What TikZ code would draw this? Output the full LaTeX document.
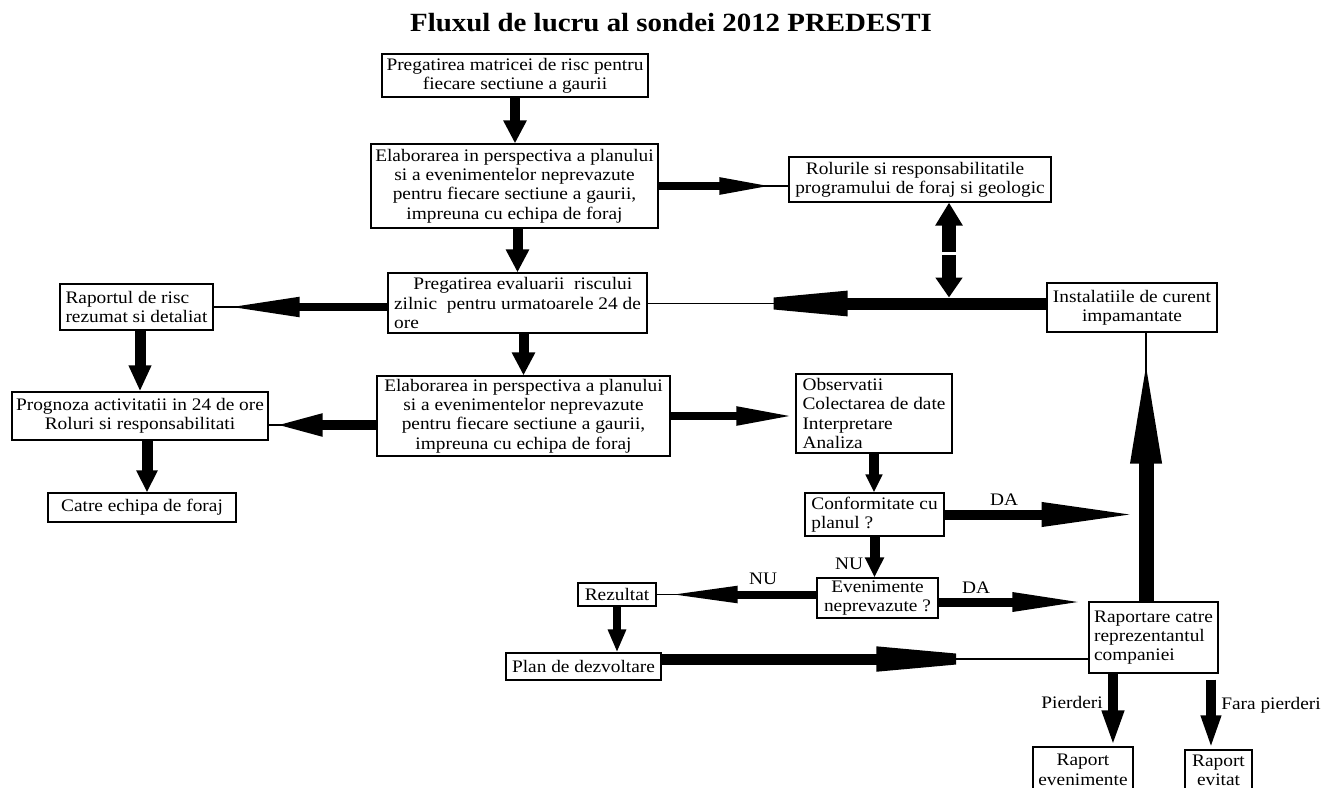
\documentclass[tikz,border=0pt]{standalone}
\usepackage{fontspec}
\setmainfont{Liberation Serif}[FakeStretch=1.1]
\usetikzlibrary{arrows.meta}
\begin{document}
\begin{tikzpicture}[x=0.75pt,y=-0.75pt,
  box/.style n args={2}{draw, line width=0.9pt, inner sep=0pt, minimum width=#1, minimum height=#2, font=\fontsize{13.2}{14.5}\selectfont},
  thinln/.style={line width=0.9pt},
  fat/.style n args={3}{line width=#1, -{Triangle[length=#2,width=#3]}},
  lbl/.style={font=\fontsize{13.2}{14.5}\selectfont, inner sep=0pt}]
\useasboundingbox (0,0) rectangle (1335,788);
\fill[white] (0,0) rectangle (1335,788);
\clip (0,0) rectangle (1335,788);

\node[anchor=base, font=\fontsize{19.7}{22}\selectfont\bfseries, inner sep=0pt] (title) at (671,32) {Fluxul de lucru al sondei 2012 PREDESTI};

% boxes
\node[box={199.5pt}{32.25pt}, align=center] (b1) at (515,75.5) {Pregatirea matricei de risc pentru\\fiecare sectiune a gaurii};
\node[box={215.25pt}{63pt}, align=center] (b2) at (514.5,186) {Elaborarea in perspectiva a planului\\si a evenimentelor neprevazute\\pentru fiecare sectiune a gaurii,\\impreuna cu echipa de foraj};
\node[box={194.25pt}{45pt}, align=left] (b3) at (517.5,303) {\hspace*{1.1em}Pregatirea evaluarii\ \ riscului\\zilnic\ \ pentru urmatoarele 24 de\\ore};
\node[box={196.5pt}{33.75pt}, align=left] (rol) at (920,179.5) {\hspace*{0.6em}Rolurile si responsabilitatile\\programului de foraj si geologic};
\node[box={114.75pt}{34.5pt}, align=left] (rap) at (136.5,307) {Raportul de risc\\rezumat si detaliat};
\node[box={127.5pt}{36.75pt}, align=center] (inst) at (1132,307.5) {Instalatiile de curent\\impamantate};
\node[box={192pt}{36pt}, align=center] (prog) at (140,416) {Prognoza activitatii in 24 de ore\\Roluri si responsabilitati};
\node[box={219.75pt}{60pt}, align=center] (e2) at (523.5,416) {Elaborarea in perspectiva a planului\\si a evenimentelor neprevazute\\pentru fiecare sectiune a gaurii,\\impreuna cu echipa de foraj};
\node[box={141pt}{21.75pt}] (catre) at (142,507.5) {Catre echipa de foraj};
\node[box={117pt}{59.25pt}, align=left] (obs) at (874,413.5) {Observatii\\Colectarea de date\\Interpretare\\Analiza};
\node[box={104.25pt}{32.25pt}, align=left] (conf) at (874.5,514.5) {Conformitate cu\\planul ?};
\node[box={90.75pt}{30pt}, align=center] (even) at (877.5,598) {Evenimente\\neprevazute ?};
\node[box={58.5pt}{17.25pt}] (rez) at (617,594.5) {Rezultat};
\node[box={116.25pt}{20.25pt}] (plan) at (583.5,666.5) {Plan de dezvoltare};
\node[box={96.75pt}{53.25pt}, align=left] (rp) at (1153.5,637.5) {Raportare catre\\reprezentantul\\companiei};
\node[box={75pt}{51pt}, align=center] (re) at (1083,781) {Raport\\evenimente\rule[-17pt]{0pt}{0pt}};
\node[box={50.25pt}{48.75pt}, align=center] (rev) at (1218.5,782.5) {Raport\\evitat\rule[-18pt]{0pt}{0pt}};

% connectors
\draw[fat={7.5pt}{17.25pt}{16.5pt}] (b1.south) -- (b1.south |- b2.north);
\draw[fat={7.5pt}{17.25pt}{16.5pt}] (b2.south -| b3.north) -- (b3.north);

\draw[thinln] (b2.east) -- (b2.east -| rol.west);
\draw[fat={6pt}{42.75pt}{11.25pt}, shorten >=9pt] (b2.east) -- (b2.east -| rol.west);

\draw[thinln] (b3.west |- rap.east) -- (rap.east);
\draw[fat={6pt}{55.5pt}{13.5pt}, shorten >=9pt] (b3.west |- rap.east) -- (rap.east);

\coordinate (iw) at ([yshift=3pt]inst.west);
\draw[thinln] (iw) -- (iw -| b3.east);
\draw[fat={9pt}{121.5pt}{16.5pt}, shorten >=28.5pt] (iw) -- (iw -| b3.east);

\coordinate (dmu) at (949,252);
\coordinate (dmd) at (949,255);
\draw[fat={10.5pt}{17.25pt}{19.5pt}] (dmu) -- (dmu |- rol.south);
\draw[fat={10.5pt}{15pt}{19.5pt}, shorten >=4.5pt] (dmd) -- (dmd |- iw);

\draw[fat={7.5pt}{17.25pt}{16.5pt}] (b3.south -| e2.north) -- (e2.north);
\draw[fat={8.25pt}{19.5pt}{15.75pt}] (rap.south -| prog.north) -- (prog.north);
\coordinate (pc) at ([xshift=5.25pt]prog.south);
\draw[fat={8.25pt}{16.5pt}{15pt}] (pc) -- (pc |- catre.north);

\coordinate (e2w) at ([yshift=-6.75pt]e2.west);
\draw[thinln] (e2w) -- (e2w -| prog.east);
\draw[fat={7.5pt}{37.5pt}{15pt}, shorten >=3pt] (e2w) -- (e2w -| prog.east);

\draw[fat={6pt}{44.25pt}{12.75pt}] (e2.east) -- (e2.east -| obs.west);
\draw[fat={7.5pt}{13.5pt}{12pt}] (obs.south) -- (obs.south |- conf.north);
\draw[fat={7.5pt}{15pt}{13.5pt}] (conf.south) -- (conf.south |- even.north);

\coordinate (vb) at ([xshift=-5.6pt]rp.north);
\draw[thinln] (vb) -- (vb |- inst.south);
\draw[fat={11.25pt}{87pt}{20.25pt}, shorten >=11.25pt] (vb) -- (vb |- inst.south);

\draw[fat={7.5pt}{72.75pt}{16.5pt}, shorten >=5.6pt] (conf.east) -- (conf.east -| vb);

\draw[thinln] (even.west |- rez.east) -- (rez.east);
\draw[fat={6pt}{55.5pt}{11.25pt}, shorten >=5.25pt] (even.west |- rez.east) -- (rez.east);

\coordinate (ee) at ([yshift=-3pt]even.east);
\draw[fat={6.75pt}{57pt}{12.75pt}] (ee) -- (ee -| rp.west);

\draw[fat={6pt}{17.25pt}{12.75pt}] (rez.south) -- (rez.south |- plan.north);

\coordinate (pe) at ([yshift=5.6pt]plan.east);
\draw[thinln] (pe) -- (pe -| rp.west);
\draw[fat={8.25pt}{119.25pt}{16.5pt}, shorten >=39.75pt] (pe) -- (pe -| rp.west);

\coordinate (pp) at ([xshift=-30.4pt]rp.south);
\draw[fat={7.5pt}{27pt}{15pt}] (pp) -- (pp |- re.north);
\coordinate (fp) at ([xshift=43.1pt,yshift=-4.5pt]rp.south);
\draw[fat={7.5pt}{25.5pt}{13.5pt}] (fp) -- (fp |- rev.north);

% labels
\node[lbl] (da1) at (1004,500) {DA};
\node[lbl] (nu1) at (849,564) {NU};
\node[lbl] (nu2) at (763,579) {NU};
\node[lbl] (da2) at (976,588) {DA};
\node[lbl, anchor=east] (pl) at (1103,702) {Pierderi};
\node[lbl, anchor=west] (fl) at (1221,705) {Fara pierderi};
\end{tikzpicture}
\end{document}
